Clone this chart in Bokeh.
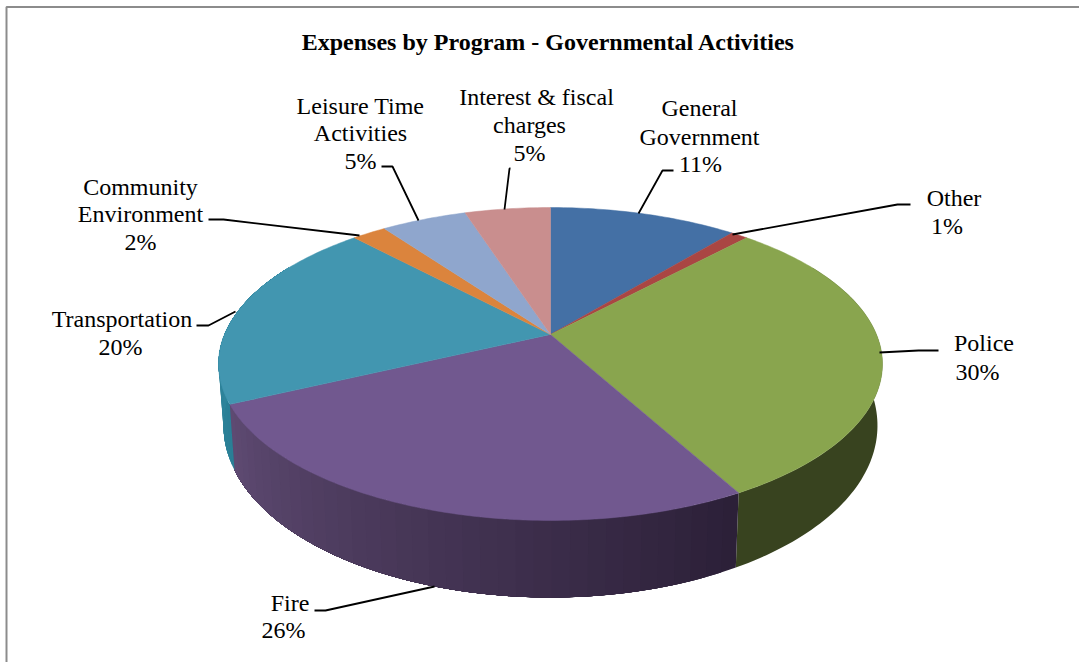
import numpy as np
from bokeh.plotting import figure
from bokeh.models import Range1d
from bokeh.core.properties import value
from bokeh.embed import file_html
from bokeh.resources import INLINE

# Expense shares, clockwise from twelve o'clock
programs = ["General Government", "Other", "Police", "Fire", "Transportation",
            "Community Environment", "Leisure Time Activities", "Interest & fiscal charges"]
shares = [11, 1, 30, 26, 20, 2, 5, 5]
top_colors = ["#4470A5", "#AA4643", "#89A54E", "#71588F", "#4296B0", "#DB843D", "#8FA6CD", "#C98E8E"]
wall_start = ["#2C4A6E", "#702E2C", "#38431F", "#2C2038", "#2A7F96", "#8F5628", "#5E6D87", "#845D5D"]
wall_end = ["#2C4A6E", "#702E2C", "#38431F", "#5E4A72", "#378CA3", "#8F5628", "#5E6D87", "#845D5D"]
title = "Expenses by Program - Governmental Activities"

# Label layout: name lines, then the share line, each with its own centre in page pixels
label_lines = [
    (["General", "Government"], [(699, 107), (699, 136)], (700, 163)),
    (["Other"], [(953.5, 197)], (946.5, 225)),
    (["Police"], [(983.5, 342)], (977, 371)),
    (["Fire"], [(289.5, 602)], (283, 629)),
    (["Transportation"], [(121.5, 318)], (120, 346)),
    (["Community", "Environment"], [(140, 186), (140, 213)], (140, 241)),
    (["Leisure Time", "Activities"], [(360, 105), (360, 132)], (360, 160)),
    (["Interest & fiscal", "charges"], [(536, 96), (529, 124)], (529, 152)),
]
leaders = [
    ([673, 662, 638], [170, 170, 213]),
    ([910, 897, 732], [204, 204, 234]),
    ([938, 918, 879], [350, 350, 352]),
    ([314, 325, 434], [610, 610, 586]),
    ([196, 208, 235], [325, 325, 311]),
    ([208, 223, 359], [219, 219, 235]),
    ([381, 392, 418], [166, 166, 220]),
    ([510, 509, 504], [168, 168, 209]),
]

# Perspective projection of the pie's rim onto the page
CX, CY = 550.0, 334.0
PX, PY, PERSP = 326.0, 150.9, -0.1885
WALL_SCALE, DEPTH_MID, DEPTH_FRONT = 0.985, 58.0, 19.0
FRONT_FROM, FRONT_TO = 0.17, 0.83  # part of the rim whose wall faces the viewer


def rim(frac):
    a = 2 * np.pi * np.asarray(frac, dtype=float)
    u, v = np.sin(a), -np.cos(a)
    d = 1 + PERSP * v
    return CX + PX * u / d, CY + PY * v / d, v


def base(frac):
    x, y, v = rim(frac)
    return CX + (x - CX) * WALL_SCALE, y + DEPTH_MID + DEPTH_FRONT * v


def mix(c1, c2, t):
    a = [int(c1[i:i + 2], 16) for i in (1, 3, 5)]
    b = [int(c2[i:i + 2], 16) for i in (1, 3, 5)]
    return "#%02x%02x%02x" % tuple(round(p + (q - p) * t) for p, q in zip(a, b))


p = figure(width=1079, height=662, output_backend="svg", toolbar_location=None,
           x_range=Range1d(0, 1079), y_range=Range1d(662, 0), min_border=0)
p.axis.visible = False
p.grid.visible = False
p.outline_line_color = None
p.background_fill_color = "white"
p.border_fill_color = "white"

# Chart frame: only the top and left edges fall inside the page
p.line([6, 6, 1079], [662, 6.5, 6.5], line_color="#8C8C8C", line_width=2)

edges = np.concatenate([[0], np.cumsum(shares)]) / sum(shares)

# Side wall: each band runs on to the end of its slice and the next band paints
# over it, which keeps the shade changes free of hairline gaps
for i in range(len(shares)):
    lo, hi = max(edges[i], FRONT_FROM), min(edges[i + 1], FRONT_TO)
    if lo >= hi:
        continue
    bands = 1 if wall_start[i] == wall_end[i] else 36
    starts = np.linspace(lo, hi, bands + 1)[:-1]
    for k, s in enumerate(starts):
        f = np.linspace(s, hi, 80)
        tx, ty, _ = rim(f)
        bx, by = base(f)
        c = mix(wall_start[i], wall_end[i], k / max(bands - 1, 1))
        p.patch(np.r_[tx, bx[::-1]], np.r_[ty, by[::-1]], fill_color=c, line_color=None)

# Top face
for i in range(len(shares)):
    n = max(8, shares[i] * 4)
    f = np.linspace(edges[i], edges[i + 1], n + 1)
    x, y, _ = rim(f)
    p.patch(np.r_[CX, x], np.r_[CY, y], fill_color=top_colors[i],
            line_color=top_colors[i], line_width=0.5)

# Leader lines
for lx, ly in leaders:
    p.line(lx, ly, line_color="black", line_width=1.8)

# Labels
serif = value("Liberation Serif")
for (names, spots, share_spot), s in zip(label_lines, shares):
    for text, (x, y) in zip(names + [f"{s}%"], spots + [share_spot]):
        p.text([x], [y], text=[text], text_font=serif, text_font_size="24px",
               text_align="center", text_baseline="middle", text_color="black")

p.text([548], [41], text=[title], text_font=serif, text_font_size="24px",
       text_font_style="bold", text_align="center", text_baseline="middle", text_color="black")

open("out.html", "w").write(file_html(p, INLINE))
